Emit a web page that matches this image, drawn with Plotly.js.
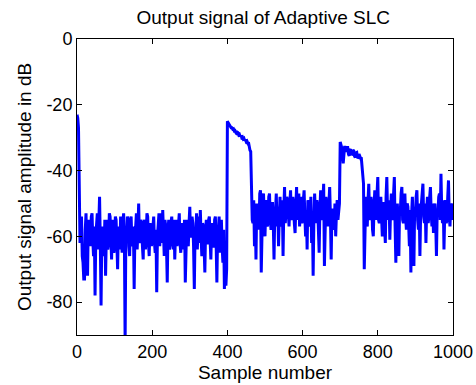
<!DOCTYPE html>
<html>
<head>
<meta charset="utf-8">
<script src="https://cdn.plot.ly/plotly-3.0.1.min.js"></script>
<style>html,body{margin:0;padding:0;background:#fff;}#chart{width:476px;height:385px;}</style>
</head>
<body>
<div id="chart"></div>
<script>
// Output amplitude in dB, every 2nd sample
const sampleStep = 2;
const segNoise1 = [ // samples 0..398
  -23, -24, -27, -45, -62, -55, -54, -66, -68, -73,
  -73, -58, -53, -64, -72, -56, -55, -60, -63, -54,
  -53, -61, -66, -57, -78, -60, -56, -53, -64, -58,
  -48, -62, -81, -60, -57, -63, -66, -55, -72, -60,
  -55, -64, -62, -53, -54, -60, -67, -55, -56, -65,
  -63, -54, -55, -62, -70, -57, -58, -64, -54, -60,
  -65, -56, -53, -61, -92, -58, -60, -54, -55, -63,
  -66, -55, -54, -62, -63, -57, -76, -59, -57, -53,
  -64, -58, -50, -61, -62, -55, -56, -63, -67, -56,
  -55, -64, -61, -53, -54, -62, -66, -57, -56, -63,
  -60, -54, -54, -62, -65, -58, -77, -60, -56, -53,
  -63, -58, -53, -62, -52, -59, -66, -55, -57, -63,
  -74, -58, -55, -64, -62, -56, -54, -61, -64, -55,
  -67, -59, -55, -63, -60, -54, -53, -62, -65, -57,
  -56, -64, -61, -55, -74, -60, -55, -62, -63, -56,
  -51, -60, -60, -54, -56, -63, -76, -59, -58, -53,
  -64, -57, -54, -62, -52, -60, -66, -56, -57, -63,
  -71, -58, -55, -62, -62, -55, -54, -61, -67, -57,
  -56, -63, -63, -55, -54, -62, -74, -59, -58, -54,
  -65, -57, -55, -63, -68, -58, -76, -62, -75, -70
];
const segBurst1 = [ // samples 400..462
  -25, -25.5, -26, -26.4, -26.5, -27, -27, -27.4, -27.3, -27.9,
  -27.8, -28.3, -28, -28.7, -28.6, -29.2, -29, -29.6, -29.3, -30,
  -29.8, -30.4, -30.2, -30.9, -30.6, -31.2, -31, -31.6, -31.4, -33.5,
  -33.8, -34.2
];
const segNoise2 = [ // samples 464..698
  -50, -55, -56, -49, -63, -52, -67, -50, -52, -58,
  -58, -47, -46, -71, -54, -48, -47, -56, -60, -51,
  -49, -57, -56, -48, -47, -55, -58, -50, -50, -56,
  -67, -53, -52, -47, -57, -51, -63, -54, -48, -57,
  -55, -49, -66, -52, -45, -56, -53, -48, -49, -55,
  -57, -50, -46, -55, -54, -48, -50, -56, -59, -51,
  -45, -55, -52, -47, -57, -51, -48, -56, -55, -49,
  -46, -54, -60, -52, -64, -49, -50, -57, -55, -48,
  -62, -53, -72, -55, -47, -53, -56, -49, -51, -58,
  -65, -52, -46, -55, -54, -49, -44, -69, -55, -48,
  -50, -56, -57, -50, -45, -54, -67, -52, -52, -57,
  -58, -50, -60, -53, -49, -55, -53, -50
];
const segBurst2 = [ // samples 700..762
  -31.3, -32, -33, -34.5, -37.8, -35, -32.5, -34, -34, -33,
  -33, -35, -35.5, -33.8, -33.5, -35.2, -35, -33.8, -34, -35.6,
  -36, -34.6, -34.5, -36.2, -36, -35, -35.5, -36.2, -36, -38,
  -41, -44
];
const segNoise3 = [ // samples 764..1000
  -70, -52, -48, -56, -57, -49, -44, -54, -55, -48,
  -50, -58, -60, -51, -46, -55, -53, -47, -42, -55,
  -56, -49, -48, -54, -60, -50, -50, -57, -62, -48,
  -42, -53, -55, -49, -61, -52, -47, -55, -54, -47,
  -42, -57, -68, -52, -50, -57, -66, -51, -52, -47,
  -45, -55, -56, -49, -47, -54, -58, -50, -51, -56,
  -63, -52, -71, -53, -48, -56, -69, -51, -54, -48,
  -46, -55, -58, -50, -66, -53, -50, -47, -44, -54,
  -56, -50, -62, -52, -48, -56, -54, -48, -45, -53,
  -57, -50, -59, -52, -50, -56, -66, -52, -53, -48,
  -47, -55, -41, -52, -56, -49, -64, -53, -49, -56,
  -55, -48, -43, -54, -57, -50, -52, -55, -50
];
const amplitudeDb = [].concat(segNoise1, segBurst1, segNoise2, segBurst2, segNoise3);
const sampleNumber = amplitudeDb.map((_, i) => i * sampleStep);

const xTicks = [0, 200, 400, 600, 800, 1000];
const yTicks = [0, -20, -40, -60, -80];
const titleText = 'Output signal of Adaptive SLC';
const xLabel = 'Sample number';
const yLabel = 'Output signal amplitude in dB';

const fontFam = '"Liberation Sans", Arial, Helvetica, sans-serif';

const trace = {
  x: sampleNumber,
  y: amplitudeDb,
  type: 'scatter',
  mode: 'lines',
  line: {color: '#0000FF', width: 3},
  hoverinfo: 'skip'
};

const axisCommon = {
  showgrid: false,
  zeroline: false,
  showline: true,
  linecolor: '#000',
  linewidth: 1,
  mirror: 'ticks',
  ticks: 'inside',
  ticklen: 5,
  tickwidth: 1,
  tickcolor: '#000',
  tickfont: {family: fontFam, size: 18, color: '#000'}
};

const layout = {
  width: 476,
  height: 385,
  margin: {l: 77, r: 23, t: 39, b: 50, pad: 0},
  paper_bgcolor: '#fff',
  plot_bgcolor: '#fff',
  showlegend: false,
  title: {
    text: titleText,
    font: {family: fontFam, size: 19, color: '#000'},
    x: 0.553, xanchor: 'center',
    y: 0.972, yanchor: 'top', yref: 'container'
  },
  xaxis: Object.assign({}, axisCommon, {
    range: [0, 1000],
    tickvals: xTicks,
    ticktext: xTicks.map(String),
    title: {text: xLabel, font: {family: fontFam, size: 19, color: '#000'}, standoff: 4}
  }),
  yaxis: Object.assign({}, axisCommon, {
    range: [-90, 0],
    tickvals: yTicks,
    ticktext: yTicks.map(String)
  }),
  annotations: [{
    text: yLabel,
    xref: 'paper', yref: 'paper',
    x: -53 / 376, y: 0.5,
    xanchor: 'center', yanchor: 'middle',
    textangle: -90,
    showarrow: false,
    font: {family: fontFam, size: 19, color: '#000'}
  }]
};

Plotly.newPlot('chart', [trace], layout, {staticPlot: true, displayModeBar: false});
</script>
</body>
</html>
